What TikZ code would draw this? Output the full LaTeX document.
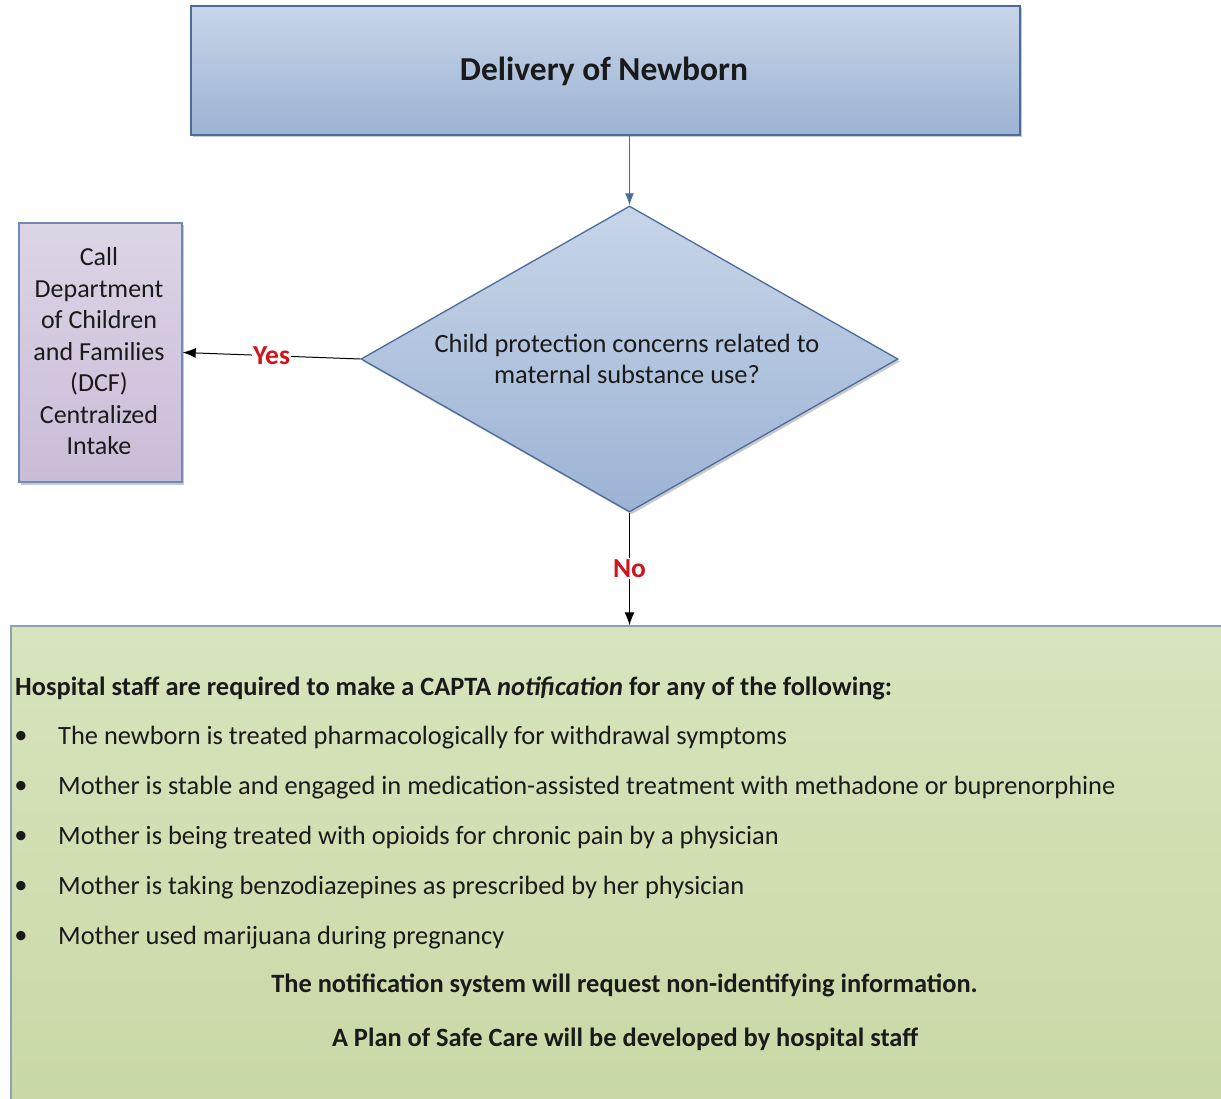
\documentclass[tikz,border=0pt]{standalone}
\usepackage{fontspec}
\setmainfont{Carlito}
\usetikzlibrary{shapes.geometric,shadows,arrows.meta}
\definecolor{txt}{HTML}{1A1A1A}
\definecolor{bluetop}{HTML}{C7D5E8}
\definecolor{bluebot}{HTML}{9CB3D4}
\definecolor{blueline}{HTML}{4A6B9C}
\definecolor{purtop}{HTML}{DDD5E6}
\definecolor{purbot}{HTML}{C9BCD8}
\definecolor{purline}{HTML}{7088B2}
\definecolor{grntop}{HTML}{D8E4BD}
\definecolor{grnbot}{HTML}{C9D8A6}
\definecolor{grnline}{HTML}{8FA3AE}
\definecolor{lblred}{HTML}{D0141E}
\tikzset{
  shad/.style={drop shadow={shadow xshift=2pt,shadow yshift=-2.5pt,opacity=0.35,fill=black!60}},
  topbox/.style={draw=blueline,line width=1.4pt,top color=bluetop,bottom color=bluebot,shad,
    text=txt,font=\fontsize{33.5}{40}\selectfont\bfseries,inner sep=0pt},
  diabox/.style={diamond,draw=blueline,line width=1.3pt,top color=bluetop,bottom color=bluebot,shad,inner sep=0pt},
  dcfbox/.style={draw=purline,line width=1.4pt,top color=purtop,bottom color=purbot,shad,inner sep=0pt},
  grnbox/.style={draw=grnline,line width=1.4pt,top color=grntop,bottom color=grnbot,shad,inner sep=0pt},
  bluearr/.style={draw=blueline,line width=1.2pt,-{Latex[length=12pt,width=9pt]}},
  blkarr/.style={draw=black,line width=1pt,-{Latex[length=13pt,width=10pt]}},
  lbl/.style={fill=white,text=lblred,font=\fontsize{27.5}{32}\selectfont\bfseries,inner sep=1.5pt},
  bodytxt/.style={text=txt,inner sep=0pt,font=\fontsize{26.4}{30}\selectfont},
  boldtxt/.style={text=txt,inner sep=0pt,font=\fontsize{26.4}{30}\selectfont\bfseries}
}

\begin{document}

\begin{tikzpicture}[x=1pt,y=-1pt]
\useasboundingbox (0,0) rectangle (1221,1099);
\clip (0,0) rectangle (1221,1099);
\fill[white] (0,0) rectangle (1221,1099);

\node[topbox,minimum width=829pt,minimum height=129pt] (start) at (605.5,70.5) {};
\node[text=txt,inner sep=0pt,font=\fontsize{33.5}{40}\selectfont\bfseries] (title) at (604,71.5) {Delivery of Newborn};

\node[diabox,minimum width=537pt,minimum height=306pt] (dia) at (629.5,359) {};
\node[bodytxt,align=center,font=\fontsize{26.4}{31}\selectfont] (diatext) at (627,358.5)
  {Child protection concerns related to\\maternal substance use?};

\node[dcfbox,minimum width=163pt,minimum height=259pt] (dcf) at (100.5,352.5) {};
\node[bodytxt,align=center,font=\fontsize{26}{31.5}\selectfont] (dcftext) at (99,351.5)
  {Call\\Department\\of Children\\and Families\\(DCF)\\Centralized\\Intake};

\node[grnbox,minimum width=1229pt,minimum height=494pt] (gbox) at (625.5,873) {};

\draw[bluearr] (start.south -| dia.north) -- (dia.north);
\draw[blkarr] (dia.west) -- node[lbl] (yes) {Yes} (dcf.east);
\draw[blkarr] (dia.south) -- node[lbl] (no) {No} (gbox.north -| dia.south);

\node[boldtxt,anchor=west] (head) at (15,688.5)
  {Hospital staff are required to make a CAPTA \textit{notification} for any of the following:};

\foreach \i/\t in {1/The newborn is treated pharmacologically for withdrawal symptoms,
  2/Mother is stable and engaged in medication-assisted treatment with methadone or buprenorphine,
  3/Mother is being treated with opioids for chronic pain by a physician,
  4/Mother is taking benzodiazepines as prescribed by her physician,
  5/Mother used marijuana during pregnancy}{
  \node[bodytxt,anchor=center] (b\i) at (21,687.5+50*\i) {•};
  \node[bodytxt,anchor=west] (l\i) at (58,687.5+50*\i) {\t};
}

\node[boldtxt] (foot1) at (624.5,985.5) {The notification system will request non-identifying information.};
\node[boldtxt] (foot2) at (625,1039.5) {A Plan of Safe Care will be developed by hospital staff};
\end{tikzpicture}

\end{document}
